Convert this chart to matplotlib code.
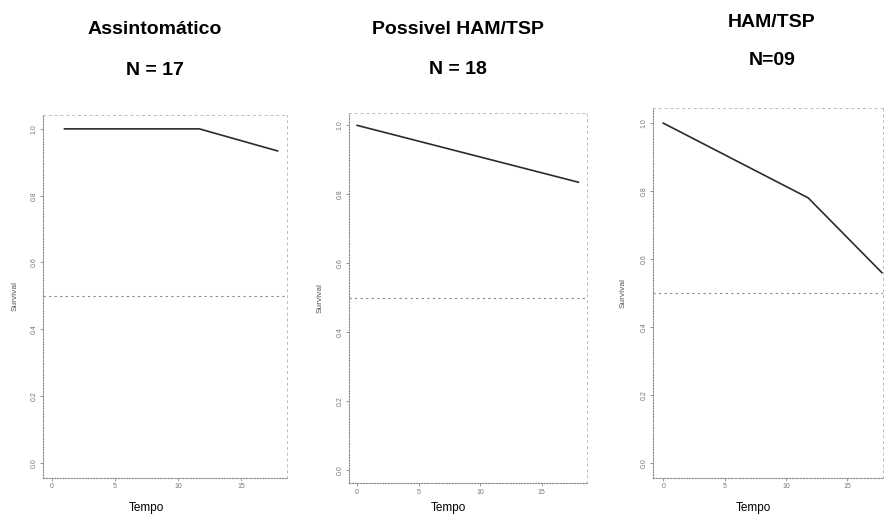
import matplotlib
matplotlib.use("Agg")
import matplotlib.pyplot as plt

plt.rcParams['font.family'] = ['Liberation Sans', 'DejaVu Sans']

# survival curves
titles = ["Assintomático", "Possivel HAM/TSP", "HAM/TSP"]
n_labels = ["N = 17", "N = 18", "N=09"]
asymp_time = [1.0, 11.7, 17.9]
asymp_surv = [1.0, 1.0, 0.934]
poss_time = [0.0, 18.0]
poss_surv = [1.0, 0.835]
ham_time = [0.0, 11.8, 17.8]
ham_surv = [1.0, 0.78, 0.56]
x_ticks = [0, 5, 10, 15]
y_ticks = [0.0, 0.2, 0.4, 0.6, 0.8, 1.0]
median_line = 0.5

series = [(asymp_time, asymp_surv), (poss_time, poss_surv), (ham_time, ham_surv)]

fig = plt.figure(figsize=(8.84, 5.15), dpi=100)

# axes boxes in figure fractions
boxes = [
    [0.0486, 0.072, 0.276, 0.705],
    [0.395, 0.062, 0.269, 0.718],
    [0.739, 0.072, 0.260, 0.718],
]
xlims = [(-0.71, 18.65), (-0.65, 18.7), (-0.81, 17.9)]
ylims = [(-0.045, 1.042), (-0.038, 1.035), (-0.044, 1.044)]
title_x = [0.175, 0.518, 0.873]
title_y = [[0.942, 0.864], [0.942, 0.866], [0.956, 0.883]]
xlabel_x = [0.426, 0.416, 0.435]
xlabel_y = [-0.083, -0.068, -0.081]
ylabel_x = [-0.115, -0.122, -0.13]

for i, (t, s) in enumerate(series):
    ax = fig.add_axes(boxes[i])
    ax.plot(t, s, color="#2b2b2b", lw=1.2)
    ax.axhline(median_line, color="#888888", lw=0.8, ls=(0, (2, 3)))
    ax.set_xlim(*xlims[i])
    ax.set_ylim(*ylims[i])
    ax.set_xticks(x_ticks)
    ax.set_yticks(y_ticks)
    ax.set_xticklabels([str(v) for v in x_ticks], fontsize=5, color="#777777")
    ax.set_yticklabels([f"{v:.1f}" for v in y_ticks], fontsize=5, color="#777777",
                       rotation=90, va="center")
    ax.tick_params(length=2, width=0.6, color="#888888", pad=2)
    for side in ["left", "bottom"]:
        ax.spines[side].set_color("#888888")
        ax.spines[side].set_linewidth(0.8)
        ax.spines[side].set_linestyle((0, (1, 1.5)))
    for side in ["top", "right"]:
        ax.spines[side].set_color("#bbbbbb")
        ax.spines[side].set_linewidth(0.7)
        ax.spines[side].set_linestyle((0, (2, 4)))
    ax.set_xlabel("Tempo", fontsize=8.5, va="center")
    ax.xaxis.set_label_coords(xlabel_x[i], xlabel_y[i])
    ax.set_ylabel("Survival", fontsize=6, color="#555555", va="center")
    ax.yaxis.set_label_coords(ylabel_x[i], 0.5)

    fig.text(title_x[i], title_y[i][0], titles[i], ha="center", va="center",
             fontsize=14, fontweight="bold")
    fig.text(title_x[i], title_y[i][1], n_labels[i], ha="center", va="center",
             fontsize=14, fontweight="bold")

fig.savefig("out.png", dpi=100)
